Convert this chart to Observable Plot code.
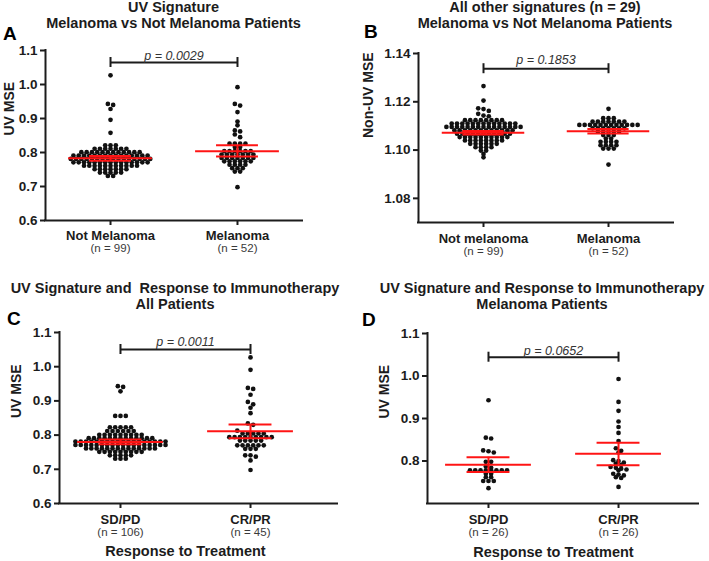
<!DOCTYPE html>
<html><head><meta charset="utf-8">
<script src="https://cdn.jsdelivr.net/npm/d3@7"></script>
<script src="https://cdn.jsdelivr.net/npm/@observablehq/plot@0.6"></script>
<style>
body{margin:0;background:#fff;font-family:"Liberation Sans",Arial,sans-serif;}
#page{position:relative;width:709px;height:561px;overflow:hidden;background:#fff;}
.title{position:absolute;font-weight:bold;font-size:14.5px;line-height:15.5px;text-align:center;color:#1c1c1c;white-space:nowrap;transform:translateX(-50%);}
.letter{position:absolute;font-weight:bold;font-size:19px;line-height:19px;color:#000;}
#page svg{position:absolute;}
</style></head><body><div id="page"></div>
<script>
// ---------------- DATA ----------------
// Panel A: UV signature, melanoma vs not melanoma
const groupsA = ["Not Melanoma", "Melanoma"];
const nLabelsA = ["(n = 99)", "(n = 52)"];
const uvNotMelanoma = [
  1.027, 0.943, 0.940, 0.928, 0.896, 0.858,
  0.821, 0.821, 0.821,
  0.811, 0.811, 0.811, 0.811, 0.811, 0.811, 0.811,
  0.801, 0.801, 0.801, 0.801, 0.801, 0.801, 0.801, 0.801, 0.801, 0.801, 0.801, 0.801,
  0.791, 0.791, 0.791, 0.791, 0.791, 0.791, 0.791, 0.791, 0.791, 0.791, 0.791, 0.791, 0.791, 0.791, 0.791,
  0.781, 0.781, 0.781, 0.781, 0.781, 0.781, 0.781, 0.781, 0.781, 0.781, 0.781, 0.781, 0.781, 0.781, 0.781, 0.781,
  0.771, 0.771, 0.771, 0.771, 0.771, 0.771, 0.771, 0.771, 0.771, 0.771, 0.771, 0.771, 0.771, 0.771, 0.771,
  0.761, 0.761, 0.761, 0.761, 0.761, 0.761, 0.761, 0.761, 0.761, 0.761, 0.761,
  0.751, 0.751, 0.751, 0.751, 0.751, 0.751, 0.751,
  0.741, 0.741, 0.741, 0.741, 0.741,
  0.731, 0.731
];
const uvMelanoma = [
  0.992, 0.943, 0.938, 0.919, 0.891, 0.880, 0.865, 0.862, 0.853, 0.845,
  0.826, 0.826, 0.826, 0.826,
  0.816, 0.816,
  0.804, 0.804, 0.804, 0.804, 0.804, 0.804,
  0.794, 0.794, 0.794, 0.794, 0.794, 0.794, 0.794,
  0.784, 0.784, 0.784, 0.784, 0.784, 0.784, 0.784,
  0.774, 0.774, 0.774, 0.774, 0.774, 0.774,
  0.764, 0.764, 0.764, 0.764,
  0.754, 0.754, 0.754,
  0.744, 0.744,
  0.698
];
const meanA = [0.783, 0.804];
const loA = [0.776, 0.788];
const hiA = [0.790, 0.821];

// Panel B: all other signatures
const groupsB = ["Not melanoma", "Melanoma"];
const nLabelsB = ["(n = 99)", "(n = 52)"];
const nonUvNotMelanoma = [
  1.1265, 1.1205, 1.1173, 1.1170, 1.1162, 1.1150, 1.1143, 1.1140,
  1.1124, 1.1124, 1.1124, 1.1124, 1.1124, 1.1124, 1.1124, 1.1124,
  1.1110, 1.1110, 1.1110, 1.1110, 1.1110, 1.1110, 1.1110, 1.1110, 1.1110, 1.1110, 1.1110, 1.1110, 1.1110,
  1.1096, 1.1096, 1.1096, 1.1096, 1.1096, 1.1096, 1.1096, 1.1096, 1.1096, 1.1096, 1.1096, 1.1096, 1.1096, 1.1096, 1.1096,
  1.1082, 1.1082, 1.1082, 1.1082, 1.1082, 1.1082, 1.1082, 1.1082, 1.1082, 1.1082, 1.1082, 1.1082,
  1.1068, 1.1068, 1.1068, 1.1068, 1.1068, 1.1068, 1.1068, 1.1068, 1.1068, 1.1068, 1.1068,
  1.1054, 1.1054, 1.1054, 1.1054, 1.1054, 1.1054, 1.1054, 1.1054, 1.1054, 1.1054,
  1.1040, 1.1040, 1.1040, 1.1040, 1.1040, 1.1040, 1.1040, 1.1040,
  1.1026, 1.1026, 1.1026, 1.1026, 1.1026, 1.1026,
  1.1012, 1.1012, 1.1012, 1.1012,
  1.0998, 1.0998,
  1.0984,
  1.0970
];
const nonUvMelanoma = [
  1.1171,
  1.1132, 1.1132, 1.1132,
  1.1118, 1.1118, 1.1118, 1.1118, 1.1118, 1.1118, 1.1118,
  1.1104, 1.1104, 1.1104, 1.1104, 1.1104, 1.1104, 1.1104, 1.1104, 1.1104, 1.1104, 1.1104, 1.1104,
  1.1090, 1.1090, 1.1090, 1.1090, 1.1090, 1.1090, 1.1090,
  1.1076, 1.1076, 1.1076, 1.1076, 1.1076,
  1.1062, 1.1062, 1.1062,
  1.1048, 1.1048,
  1.1034, 1.1034, 1.1034, 1.1034,
  1.1020, 1.1020, 1.1020, 1.1020,
  1.1006, 1.1006, 1.1006,
  1.0940
];
const meanB = [1.1072, 1.1078];
const loB = [1.1065, 1.1069];
const hiB = [1.1079, 1.1087];

// Panel C: response to immunotherapy, all patients
const groupsC = ["SD/PD", "CR/PR"];
const nLabelsC = ["(n = 106)", "(n = 45)"];
const uvSdPdAll = [
  0.943, 0.941, 0.928, 0.856, 0.856, 0.856,
  0.823, 0.823, 0.823, 0.823, 0.823,
  0.812, 0.812, 0.812, 0.812, 0.812, 0.812,
  0.801, 0.801, 0.801, 0.801, 0.801, 0.801, 0.801, 0.801, 0.801,
  0.791, 0.791, 0.791, 0.791, 0.791, 0.791, 0.791, 0.791, 0.791, 0.791, 0.791, 0.791, 0.791,
  0.781, 0.781, 0.781, 0.781, 0.781, 0.781, 0.781, 0.781, 0.781, 0.781, 0.781, 0.781, 0.781, 0.781, 0.781, 0.781, 0.781, 0.781,
  0.771, 0.771, 0.771, 0.771, 0.771, 0.771, 0.771, 0.771, 0.771, 0.771, 0.771, 0.771, 0.771, 0.771, 0.771, 0.771, 0.771, 0.771,
  0.761, 0.761, 0.761, 0.761, 0.761, 0.761, 0.761, 0.761, 0.761, 0.761, 0.761, 0.761, 0.761, 0.761,
  0.751, 0.751, 0.751, 0.751, 0.751, 0.751, 0.751, 0.751, 0.751,
  0.741, 0.741, 0.741, 0.741, 0.741,
  0.731, 0.731, 0.731
];
const uvCrPrAll = [
  1.027, 0.991, 0.938, 0.935, 0.918, 0.897, 0.890, 0.880, 0.864, 0.834, 0.830, 0.813,
  0.805, 0.805, 0.805, 0.805, 0.805,
  0.794, 0.794, 0.794, 0.794, 0.794, 0.794, 0.794, 0.794, 0.794,
  0.784, 0.784, 0.784, 0.784, 0.784,
  0.770, 0.770, 0.770, 0.770, 0.770, 0.770,
  0.760, 0.760, 0.760,
  0.741, 0.741, 0.737,
  0.726,
  0.698
];
const meanC = [0.780, 0.811];
const loC = [0.773, 0.791];
const hiC = [0.787, 0.831];

// Panel D: response to immunotherapy, melanoma patients
const groupsD = ["SD/PD", "CR/PR"];
const nLabelsD = ["(n = 26)", "(n = 26)"];
const uvSdPdMel = [
  0.943, 0.855, 0.853, 0.825, 0.823, 0.820, 0.798, 0.798, 0.787, 0.784,
  0.778, 0.778, 0.778, 0.778, 0.778, 0.778, 0.778, 0.778,
  0.770, 0.770, 0.762, 0.762, 0.753, 0.753, 0.753, 0.736
];
const uvCrPrMel = [
  0.993, 0.939, 0.918, 0.893, 0.880, 0.866, 0.847, 0.830, 0.824, 0.820,
  0.802, 0.800, 0.796, 0.794, 0.791, 0.786, 0.784, 0.782, 0.780, 0.778,
  0.770, 0.768, 0.766, 0.762, 0.760, 0.739
];
const meanD = [0.791, 0.817];
const loD = [0.774, 0.790];
const hiD = [0.809, 0.843];

const pValues = ["p = 0.0029", "p = 0.1853", "p = 0.0011", "p = 0.0652"];

// ---------------- STYLE / LAYOUT ----------------
const INK = "#1c1c1c", RED = "#ff1414";
const R = 2.35, ROW_H = 3.0, SPACING = 5.3, MEAN_HW = 0.33, CAP_HW = 0.165, BRACKET_TICK = 5;
const FONT = '"Liberation Sans", Arial, Helvetica, sans-serif';

// GraphPad-like scatter: values binned into rows (in pixels), each row spread symmetrically
function swarm(values, ys) {
  const order = values.map((v, i) => i).sort((a, b) => values[b] - values[a]);
  const offs = new Array(values.length);
  let bin = [], start = null;
  const flush = () => {
    const n = bin.length;
    bin.forEach((idx, k) => { offs[idx] = (k - (n - 1) / 2) * SPACING; });
    bin = [];
  };
  for (const i of order) {
    const py = ys(values[i]);
    if (start === null || py - start > ROW_H) { flush(); start = py; }
    bin.push(i);
  }
  flush();
  return offs;
}

function panel(cfg) {
  const W = cfg.width - cfg.mL - cfg.mR, H = cfg.height - cfg.mT - cfg.mB;
  const ys = d3.scaleLinear(cfg.ydom, [H, 0]);
  const pxPerX = W / (cfg.xdom[1] - cfg.xdom[0]);
  const pxPerY = H / (cfg.ydom[1] - cfg.ydom[0]);
  const dots = [];
  cfg.series.forEach((vals, g) => {
    const offs = swarm(vals, ys);
    vals.forEach((v, i) => dots.push({g, v, off: offs[i] / pxPerX}));
  });
  const stats = cfg.groups.map((name, i) => ({i, mean: cfg.mean[i], lo: cfg.lo[i], hi: cfg.hi[i]}));
  const tick = BRACKET_TICK / pxPerY;
  const marks = [
    Plot.axisY({ticks: cfg.yticks, tickFormat: d3.format(cfg.yfmt), tickSize: 5, tickPadding: 3,
      strokeWidth: 2, stroke: INK, fill: INK, fontSize: 13.5, fontWeight: "bold", label: null}),
    Plot.axisX({ticks: [0, 1], tickSize: 5, strokeWidth: 2, stroke: INK, tickFormat: () => "", label: null}),
    Plot.text([cfg.ylabel], {frameAnchor: "left", rotate: -90, dx: -cfg.labelOffset, text: d => d,
      fontSize: 14, fontWeight: "bold", fill: INK}),
    Plot.ruleY([cfg.ydom[0]], {stroke: INK, strokeWidth: 2, strokeLinecap: "square"}),
    Plot.ruleX([cfg.xdom[0]], {stroke: INK, strokeWidth: 2, strokeLinecap: "square"}),
    Plot.dot(dots, {x: d => d.g + d.off, y: "v", r: R, fill: "#111", stroke: null}),
    Plot.ruleY(stats, {y: "mean", x1: d => d.i - MEAN_HW, x2: d => d.i + MEAN_HW, stroke: RED, strokeWidth: 2}),
    Plot.ruleY(stats, {y: "lo", x1: d => d.i - CAP_HW, x2: d => d.i + CAP_HW, stroke: RED, strokeWidth: 2}),
    Plot.ruleY(stats, {y: "hi", x1: d => d.i - CAP_HW, x2: d => d.i + CAP_HW, stroke: RED, strokeWidth: 2}),
    Plot.ruleX(stats, {x: "i", y1: "lo", y2: "hi", stroke: RED, strokeWidth: 2}),
    Plot.ruleY([cfg.bracketY], {x1: 0, x2: 1, stroke: INK, strokeWidth: 2}),
    Plot.ruleX([0, 1], {x: d => d, y1: cfg.bracketY - tick, y2: cfg.bracketY + tick, stroke: INK, strokeWidth: 2}),
    Plot.text([cfg.pText], {x: 0.5, y: cfg.bracketY, dy: cfg.pdy, text: d => d, fontStyle: "italic",
      fontWeight: "normal", fontSize: 12.5, fill: "#333"}),
    Plot.text(cfg.groups, {x: (d, i) => i, y: cfg.ydom[0], dy: cfg.gdy, text: d => d,
      fontWeight: "bold", fontSize: 13, fill: INK}),
    Plot.text(cfg.nlabels, {x: (d, i) => i, y: cfg.ydom[0], dy: cfg.ndy, text: d => d,
      fontWeight: "normal", fontSize: 11.5, fill: "#3a3a3a"})
  ];
  if (cfg.xtitle) marks.push(Plot.text([cfg.xtitle], {x: 0.5, y: cfg.ydom[0], dy: cfg.tdy, text: d => d,
    fontWeight: "bold", fontSize: 14.5, fill: INK}));
  const svg = Plot.plot({
    width: cfg.width, height: cfg.height,
    marginLeft: cfg.mL, marginRight: cfg.mR, marginTop: cfg.mT, marginBottom: cfg.mB,
    x: {domain: cfg.xdom}, y: {domain: cfg.ydom},
    style: {fontFamily: FONT, fontSize: "13.5px", fontWeight: "bold", color: INK, background: "transparent", overflow: "visible"},
    marks
  });
  svg.style.left = cfg.left + "px";
  svg.style.top = cfg.top + "px";
  return svg;
}

const page = document.getElementById("page");
function addTitle(lines, cx, top) {
  const d = document.createElement("div");
  d.className = "title";
  d.style.left = cx + "px"; d.style.top = top + "px";
  d.innerHTML = lines.join("<br>");
  page.appendChild(d);
}
function addLetter(t, left, top) {
  const d = document.createElement("div");
  d.className = "letter"; d.textContent = t;
  d.style.left = left + "px"; d.style.top = top + "px";
  page.appendChild(d);
}

page.appendChild(panel({left: 0, top: 40, width: 350, height: 225, mL: 45, mR: 48, mT: 10, mB: 45,
  ydom: [0.6, 1.1], yticks: [0.6, 0.7, 0.8, 0.9, 1.0, 1.1], yfmt: ".1f", xdom: [-0.512, 1.512],
  ylabel: "UV MSE", labelOffset: 36, groups: groupsA, nlabels: nLabelsA, series: [uvNotMelanoma, uvMelanoma],
  mean: meanA, lo: loA, hi: hiA, bracketY: 1.0647, pText: pValues[0], pdy: -7, gdy: 15, ndy: 28}));
page.appendChild(panel({left: 350, top: 40, width: 359, height: 225, mL: 68, mR: 36, mT: 13, mB: 43,
  ydom: [1.07, 1.14], yticks: [1.08, 1.10, 1.12, 1.14], yfmt: ".2f", xdom: [-0.52, 1.52],
  ylabel: "Non-UV MSE", labelOffset: 50, groups: groupsB, nlabels: nLabelsB, series: [nonUvNotMelanoma, nonUvMelanoma],
  mean: meanB, lo: loB, hi: hiB, bracketY: 1.1337, pText: pValues[1], pdy: -9, gdy: 16, ndy: 29}));
page.appendChild(panel({left: 0, top: 320, width: 350, height: 241, mL: 59, mR: 13, mT: 12, mB: 58,
  ydom: [0.6, 1.1], yticks: [0.6, 0.7, 0.8, 0.9, 1.0, 1.1], yfmt: ".1f", xdom: [-0.469, 1.669],
  ylabel: "UV MSE", labelOffset: 43, groups: groupsC, nlabels: nLabelsC, series: [uvSdPdAll, uvCrPrAll],
  mean: meanC, lo: loC, hi: hiC, bracketY: 1.0503, pText: pValues[2], pdy: -7, gdy: 16, ndy: 29,
  xtitle: "Response to Treatment", tdy: 48}));
page.appendChild(panel({left: 350, top: 320, width: 359, height: 241, mL: 77, mR: 11, mT: 13, mB: 58,
  ydom: [0.7, 1.1], yticks: [0.8, 0.9, 1.0, 1.1], yfmt: ".1f", xdom: [-0.469, 1.615],
  ylabel: "UV MSE", labelOffset: 43, groups: groupsD, nlabels: nLabelsD, series: [uvSdPdMel, uvCrPrMel],
  mean: meanD, lo: loD, hi: hiD, bracketY: 1.0442, pText: pValues[3], pdy: -6, gdy: 16, ndy: 29,
  xtitle: "Response to Treatment", tdy: 49}));

addTitle(["UV Signature", "Melanoma vs Not Melanoma Patients"], 173.5, 0);
addTitle(["All other signatures (n = 29)", "Melanoma vs Not Melanoma Patients"], 545, 0);
addTitle(["UV Signature and&nbsp; Response to Immunotherapy", "All Patients"], 175, 281);
addTitle(["UV Signature and Response to Immunotherapy", "Melanoma Patients"], 542, 281);
addLetter("A", 3, 24);
addLetter("B", 364, 22);
addLetter("C", 7, 309);
addLetter("D", 362, 310);
</script></body></html>
